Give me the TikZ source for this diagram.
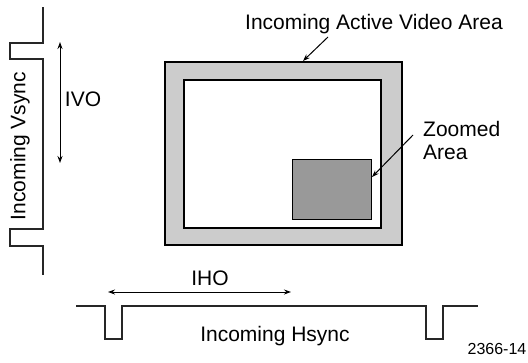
\documentclass[tikz,border=0pt]{standalone}
\usepackage{fontspec}
\setmainfont{Liberation Sans}
\usetikzlibrary{arrows.meta}
\tikzset{
  sig/.style={line width=1.3pt,black!85},
  lbl/.style={font=\fontsize{21}{23}\selectfont,inner sep=0pt},
  ptr/.style={line width=1pt,-{Stealth[length=7pt,width=5pt]}},
  dptr/.style={line width=1pt,{Stealth[length=7pt,width=5pt]}-{Stealth[length=7pt,width=5pt]}}
}
\begin{document}
\begin{tikzpicture}[x=1pt,y=-1pt]
  \useasboundingbox (0,0) rectangle (528,362);

  % video frame
  \filldraw[fill=black!20,line width=2pt] (165,62) rectangle (402,245);
  \filldraw[fill=white,line width=2pt] (184,80) rectangle (381,228);
  \filldraw[fill=black!40,line width=0.8pt] (292,159) rectangle (371,219);

  % sync signals
  \draw[sig] (43,7) -- (43,43) -- (10,43) -- (10,59) -- (43,59) -- (43,229)
    -- (10,229) -- (10,246) -- (43,246) -- (43,275);
  \draw[sig] (76,306) -- (105,306) -- (105,339) -- (122,339) -- (122,306)
    -- (426,306) -- (426,339) -- (443,339) -- (443,306) -- (478,306);

  \node[lbl,rotate=90] (vsync) at (20,146) {Incoming Vsync};
  \node[lbl] (ivo) at (83,99) {IVO};
  \node[lbl] (iho) at (210,278) {IHO};
  \node[lbl] (hsync) at (275,336) {Incoming Hsync};
  \node[lbl] (active) at (374,24) {Incoming Active Video Area};
  \node[lbl,align=left,anchor=north west] (zoomed) at (423,121) {Zoomed\\Area};
  \node[font=\fontsize{16}{18}\selectfont,inner sep=0pt] (fignum) at (497,349) {2366-14};

  % pointers
  \coordinate (ivotop) at (60,42);
  \coordinate (ivobot) at (60,163);
  \coordinate (iholeft) at (108,292);
  \coordinate (ihoright) at (291,292);
  \coordinate (activetail) at (328,37);
  \coordinate (activehead) at (303,61);
  \coordinate (zoomtail) at (413,135);
  \coordinate (zoomhead) at (372,177);
  \draw[dptr] (ivotop) -- (ivobot);
  \draw[dptr] (iholeft) -- (ihoright);
  \draw[ptr] (activetail) -- (activehead);
  \draw[ptr] (zoomtail) -- (zoomhead);
\end{tikzpicture}
\end{document}
